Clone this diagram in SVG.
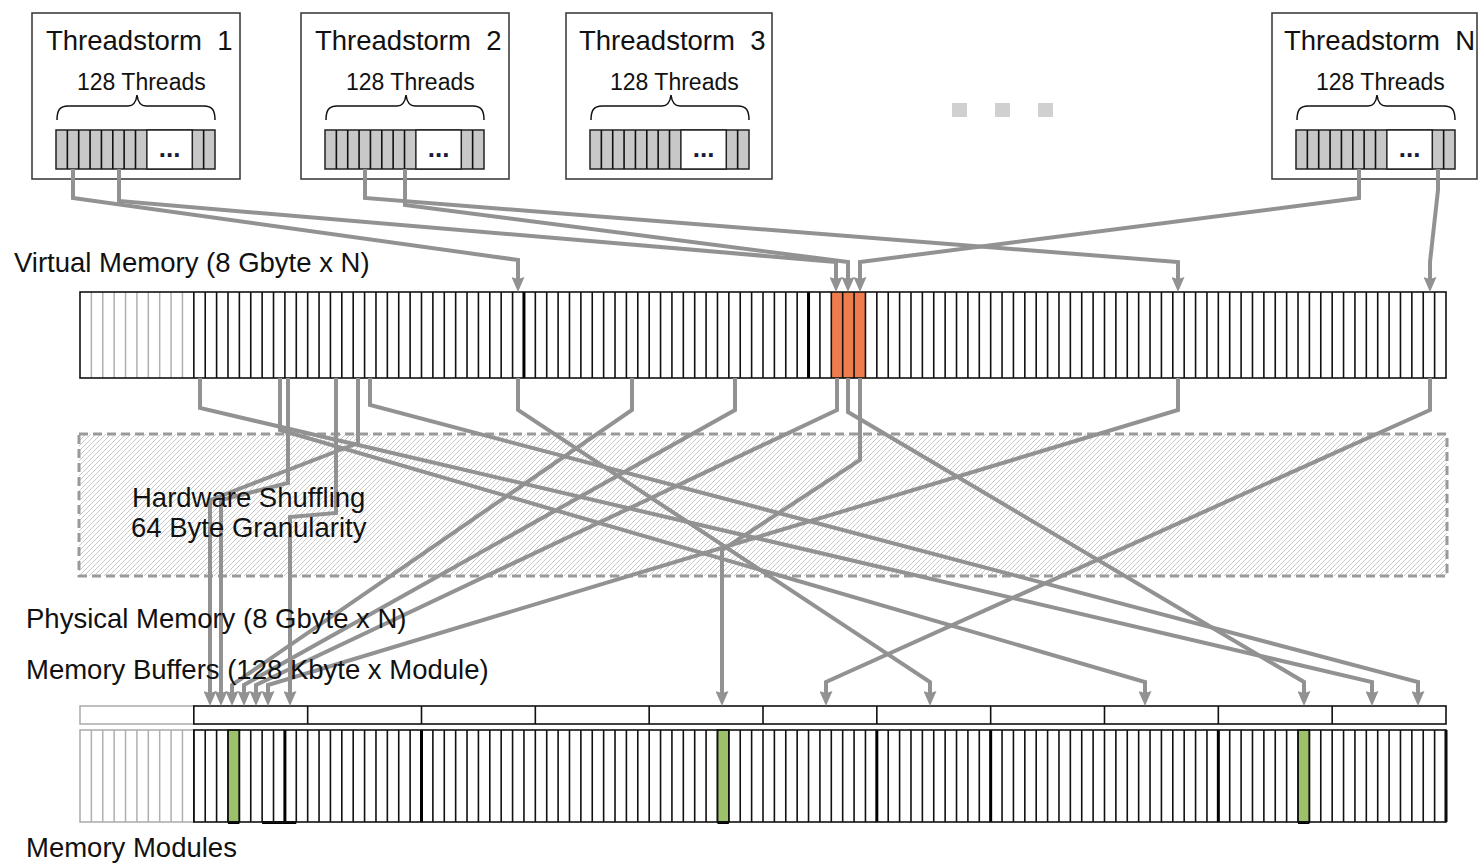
<svg xmlns="http://www.w3.org/2000/svg" xmlns:xlink="http://www.w3.org/1999/xlink" width="1484" height="864" viewBox="0 0 1484 864">
<defs>
<style>
.lbl{font-family:"Liberation Sans",Arial,sans-serif;font-size:27.5px;fill:#111}
.sub{font-size:23px}
.dots{font-family:"Liberation Sans",Arial,sans-serif;font-size:26px;font-weight:bold;fill:#1a1a3a;text-anchor:middle}
.box{fill:#fff;stroke:#333;stroke-width:1.5}
.conn{fill:none;stroke:#929292;stroke-width:4;stroke-linejoin:miter;marker-end:url(#arr)}
.div{fill:none;stroke:#111;stroke-width:1.6}
.gdiv{fill:none;stroke:#b0b0b0;stroke-width:1.5}
.thick{fill:none;stroke:#000;stroke-width:3}
</style>
<marker id="arr" markerUnits="userSpaceOnUse" markerWidth="15" markerHeight="13" viewBox="0 0 15 13" refX="9" refY="6.5" orient="auto"><path d="M0,0 L15,6.5 L0,13 L2,6.5 z" fill="#929292"/></marker>
<pattern id="hatch" width="5" height="5" patternUnits="userSpaceOnUse"><path d="M-1,1 L1,-1 M0,5 L5,0 M4,6 L6,4" stroke="#c2c2c2" stroke-width="0.9"/></pattern>
<g id="tbar">
<rect x="0" y="130" width="159" height="39" fill="#c8c8c8" stroke="#222" stroke-width="1.5"/>
<rect x="90.86" y="130" width="45.43" height="39" fill="#fff" stroke="#222" stroke-width="1.5"/>
<path class="div" d="M11.36 130v39M22.71 130v39M34.07 130v39M45.43 130v39M56.79 130v39M68.14 130v39M79.5 130v39M147.64 130v39"/>
<path d="M1,120 C1,110 4,106 12,106 L72,106 C77,106 80,103 81,95 C82,103 85,106 90,106 L148,106 C156,106 159,110 159,120" fill="none" stroke="#111" stroke-width="1.5"/>
</g>
</defs>
<rect width="1484" height="864" fill="#fff"/>

<g id="ts1">
<rect class="box" x="32" y="13" width="208" height="166"/>
<text class="lbl" x="46" y="50" xml:space="preserve">Threadstorm  1</text>
<text class="lbl sub" x="77" y="90">128 Threads</text>
<use xlink:href="#tbar" x="56"/>
<text class="dots" x="169.6" y="157">...</text>
</g>
<g id="ts2">
<rect class="box" x="301" y="13" width="208" height="166"/>
<text class="lbl" x="315" y="50" xml:space="preserve">Threadstorm  2</text>
<text class="lbl sub" x="346" y="90">128 Threads</text>
<use xlink:href="#tbar" x="325"/>
<text class="dots" x="438.6" y="157">...</text>
</g>
<g id="ts3">
<rect class="box" x="566" y="13" width="206" height="166"/>
<text class="lbl" x="579" y="50" xml:space="preserve">Threadstorm  3</text>
<text class="lbl sub" x="610" y="90">128 Threads</text>
<use xlink:href="#tbar" x="590"/>
<text class="dots" x="703.6" y="157">...</text>
</g>
<g id="tsN">
<rect class="box" x="1272" y="13" width="205" height="166"/>
<text class="lbl" x="1284" y="50" xml:space="preserve">Threadstorm  N</text>
<text class="lbl sub" x="1316" y="90">128 Threads</text>
<use xlink:href="#tbar" x="1296"/>
<text class="dots" x="1409.6" y="157">...</text>
</g>
<g id="ellipsis" fill="#d0d0d0">
<rect x="952" y="103" width="15" height="14"/>
<rect x="995" y="103" width="15" height="14"/>
<rect x="1038" y="103" width="15" height="14"/>
</g>

<g id="shuffle">
<rect x="79" y="434" width="1368" height="142" fill="url(#hatch)" stroke="#9a9a9a" stroke-width="3" stroke-dasharray="9 5"/>
</g>

<g id="vmem">
<rect x="80" y="292" width="1366" height="86" fill="#fff"/>
<rect x="831.3" y="292" width="34.15" height="86" fill="#ef7c4c"/>
<path class="gdiv" d="M91.38 292v86M102.77 292v86M114.15 292v86M125.53 292v86M136.92 292v86M148.3 292v86M159.68 292v86M171.07 292v86M182.45 292v86"/>
<path class="div" d="M193.83 292v86M205.22 292v86M216.6 292v86M227.98 292v86M239.37 292v86M250.75 292v86M262.13 292v86M273.52 292v86M284.9 292v86M296.28 292v86M307.67 292v86M319.05 292v86M330.43 292v86M341.82 292v86M353.2 292v86M364.58 292v86M375.97 292v86M387.35 292v86M398.73 292v86M410.12 292v86M421.5 292v86M432.88 292v86M444.27 292v86M455.65 292v86M467.03 292v86M478.42 292v86M489.8 292v86M501.18 292v86M512.57 292v86M523.95 292v86M535.33 292v86M546.72 292v86M558.1 292v86M569.48 292v86M580.87 292v86M592.25 292v86M603.63 292v86M615.02 292v86M626.4 292v86M637.78 292v86M649.17 292v86M660.55 292v86M671.93 292v86M683.32 292v86M694.7 292v86M706.08 292v86M717.47 292v86M728.85 292v86M740.23 292v86M751.62 292v86M763 292v86M774.38 292v86M785.77 292v86M797.15 292v86M808.53 292v86M819.92 292v86M831.3 292v86M842.68 292v86M854.07 292v86M865.45 292v86M876.83 292v86M888.22 292v86M899.6 292v86M910.98 292v86M922.37 292v86M933.75 292v86M945.13 292v86M956.52 292v86M967.9 292v86M979.28 292v86M990.67 292v86M1002.05 292v86M1013.43 292v86M1024.82 292v86M1036.2 292v86M1047.58 292v86M1058.97 292v86M1070.35 292v86M1081.73 292v86M1093.12 292v86M1104.5 292v86M1115.88 292v86M1127.27 292v86M1138.65 292v86M1150.03 292v86M1161.42 292v86M1172.8 292v86M1184.18 292v86M1195.57 292v86M1206.95 292v86M1218.33 292v86M1229.72 292v86M1241.1 292v86M1252.48 292v86M1263.87 292v86M1275.25 292v86M1286.63 292v86M1298.02 292v86M1309.4 292v86M1320.78 292v86M1332.17 292v86M1343.55 292v86M1354.93 292v86M1366.32 292v86M1377.7 292v86M1389.08 292v86M1400.47 292v86M1411.85 292v86M1423.23 292v86M1434.62 292v86"/>
<path class="thick" d="M523.95 292v86M808.53 292v86"/>
<rect x="80" y="292" width="1366" height="86" fill="none" stroke="#111" stroke-width="1.6"/>
</g>

<g id="buffers">
<rect x="80" y="706" width="113.83" height="18" fill="#fff" stroke="#aaa" stroke-width="1.5"/>
<rect x="193.83" y="706" width="1252.17" height="18" fill="#fff" stroke="#111" stroke-width="1.6"/>
<path class="div" d="M307.67 706v18M421.5 706v18M535.33 706v18M649.17 706v18M763 706v18M876.83 706v18M990.67 706v18M1104.5 706v18M1218.33 706v18M1332.17 706v18"/>
</g>

<g id="modules">
<rect x="80" y="730" width="113.83" height="92" fill="#fff" stroke="#aaa" stroke-width="1.5"/>
<path class="gdiv" d="M91.38 730v92M102.77 730v92M114.15 730v92M125.53 730v92M136.92 730v92M148.3 730v92M159.68 730v92M171.07 730v92M182.45 730v92"/>
<rect x="193.83" y="730" width="1252.17" height="92" fill="#fff"/>
<g fill="#9dc06a" stroke="#111" stroke-width="1.5">
<rect x="227.98" y="730" width="11.38" height="92"/>
<rect x="717.47" y="730" width="11.38" height="92"/>
<rect x="1298.02" y="730" width="11.38" height="92"/>
</g>
<path class="div" d="M193.83 730v92M205.22 730v92M216.6 730v92M227.98 730v92M239.37 730v92M250.75 730v92M262.13 730v92M273.52 730v92M284.9 730v92M296.28 730v92M307.67 730v92M319.05 730v92M330.43 730v92M341.82 730v92M353.2 730v92M364.58 730v92M375.97 730v92M387.35 730v92M398.73 730v92M410.12 730v92M421.5 730v92M432.88 730v92M444.27 730v92M455.65 730v92M467.03 730v92M478.42 730v92M489.8 730v92M501.18 730v92M512.57 730v92M523.95 730v92M535.33 730v92M546.72 730v92M558.1 730v92M569.48 730v92M580.87 730v92M592.25 730v92M603.63 730v92M615.02 730v92M626.4 730v92M637.78 730v92M649.17 730v92M660.55 730v92M671.93 730v92M683.32 730v92M694.7 730v92M706.08 730v92M717.47 730v92M728.85 730v92M740.23 730v92M751.62 730v92M763 730v92M774.38 730v92M785.77 730v92M797.15 730v92M808.53 730v92M819.92 730v92M831.3 730v92M842.68 730v92M854.07 730v92M865.45 730v92M876.83 730v92M888.22 730v92M899.6 730v92M910.98 730v92M922.37 730v92M933.75 730v92M945.13 730v92M956.52 730v92M967.9 730v92M979.28 730v92M990.67 730v92M1002.05 730v92M1013.43 730v92M1024.82 730v92M1036.2 730v92M1047.58 730v92M1058.97 730v92M1070.35 730v92M1081.73 730v92M1093.12 730v92M1104.5 730v92M1115.88 730v92M1127.27 730v92M1138.65 730v92M1150.03 730v92M1161.42 730v92M1172.8 730v92M1184.18 730v92M1195.57 730v92M1206.95 730v92M1218.33 730v92M1229.72 730v92M1241.1 730v92M1252.48 730v92M1263.87 730v92M1275.25 730v92M1286.63 730v92M1298.02 730v92M1309.4 730v92M1320.78 730v92M1332.17 730v92M1343.55 730v92M1354.93 730v92M1366.32 730v92M1377.7 730v92M1389.08 730v92M1400.47 730v92M1411.85 730v92M1423.23 730v92M1434.62 730v92"/>
<path class="thick" d="M284.9 730v92M421.5 730v92M876.83 730v92M990.67 730v92M1218.33 730v92M1446 730v92"/>
<path class="thick" d="M262.13 822.5H296.28M227.98 822.5H239.37M717.47 822.5H728.85M1298.02 822.5H1309.4"/>
<rect x="193.83" y="730" width="1252.17" height="92" fill="none" stroke="#111" stroke-width="1.6"/>
</g>

<g id="connectors">
<path class="conn" d="M73,169V198L518,260V286"/>
<path class="conn" d="M119,169V201L836,262V286"/>
<path class="conn" d="M365,169V198L1178,262V286"/>
<path class="conn" d="M405,169V205L848,262V286"/>
<path class="conn" d="M1359,169V198L860,262V286"/>
<path class="conn" d="M1438,169V190L1430,262V286"/>
<path class="conn" d="M200,378V408L1372,682V700"/>
<path class="conn" d="M280,378V430L1145,682V700"/>
<path class="conn" d="M288,378V483L221,500V700"/>
<path class="conn" d="M336,378V513L290,517V700"/>
<path class="conn" d="M358,378V443L210,500V700"/>
<path class="conn" d="M370,378V405L1418,682V700"/>
<path class="conn" d="M518,378V410L930,682V700"/>
<path class="conn" d="M632,378V410L232,685V700"/>
<path class="conn" d="M735,378V410L244,685V700"/>
<path class="conn" d="M837,378V410L256,685V700"/>
<path class="conn" d="M848,378V412L1304,682V700"/>
<path class="conn" d="M860,378V460L722,550V700"/>
<path class="conn" d="M1178,378V410L268,685V700"/>
<path class="conn" d="M1430,378V410L826,682V700"/>
</g>

<g id="labels">
<text class="lbl" x="14" y="272">Virtual Memory (8 Gbyte x N)</text>
<text class="lbl" x="132" y="507">Hardware Shuffling</text>
<text class="lbl" x="131" y="537">64 Byte Granularity</text>
<text class="lbl" x="26" y="628">Physical Memory (8 Gbyte x N)</text>
<text class="lbl" x="26" y="679">Memory Buffers (128 Kbyte x Module)</text>
<text class="lbl" x="26" y="857">Memory Modules</text>
</g>
</svg>
